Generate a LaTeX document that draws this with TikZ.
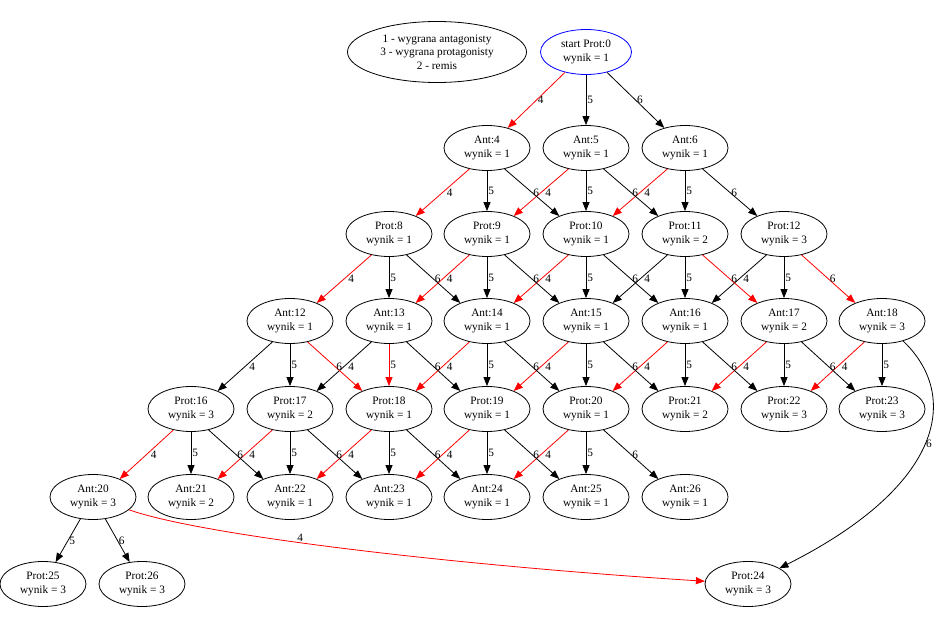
\documentclass[tikz,border=0pt]{standalone}
\usepackage{fontspec}
\setmainfont{Liberation Serif}
\usetikzlibrary{arrows.meta,shapes.geometric}
\begin{document}
\begin{tikzpicture}[x=1bp,y=-1bp,
  every node/.style={font=\fontsize{11.3bp}{13.5bp}\selectfont},
  state/.style={ellipse, draw, line width=0.8bp, minimum width=86bp,
    minimum height=45bp, inner sep=0pt, align=center},
  edge/.style={draw=black, line width=0.8bp, -{Triangle[length=9bp,width=7bp]}},
  win/.style={edge, draw=red},
  lbl/.style={midway, anchor=west, inner sep=1bp}]
\useasboundingbox (0,0) rectangle (942,643);

% legend and root
\node[state, minimum width=179bp, minimum height=61bp] (legend) at (437,52)
  {1 - wygrana antagonisty\\3 - wygrana protagonisty\\2 - remis};
\node[state, draw=blue, minimum width=91bp] (p0) at (586,52) {start Prot:0\\wynik = 1};

% game states: name / x / y / label / result
\foreach \n/\x/\y/\t/\w in {
  a4/487/148/Ant:4/1, a5/586/148/Ant:5/1, a6/685/148/Ant:6/1,
  p8/389/234/Prot:8/1, p9/487/234/Prot:9/1, p10/586/234/Prot:10/1,
  p11/685/234/Prot:11/2, p12/784/234/Prot:12/3,
  a12/290/321/Ant:12/1, a13/389/321/Ant:13/1, a14/487/321/Ant:14/1,
  a15/586/321/Ant:15/1, a16/685/321/Ant:16/1, a17/784/321/Ant:17/2,
  a18/882/321/Ant:18/3,
  p16/191/409/Prot:16/3, p17/290/409/Prot:17/2, p18/389/409/Prot:18/1,
  p19/487/409/Prot:19/1, p20/586/409/Prot:20/1, p21/685/409/Prot:21/2,
  p22/784/409/Prot:22/3, p23/882/409/Prot:23/3,
  a20/93/497/Ant:20/3, a21/191/497/Ant:21/2, a22/290/497/Ant:22/1,
  a23/389/497/Ant:23/1, a24/487/497/Ant:24/1, a25/586/497/Ant:25/1,
  a26/685/497/Ant:26/1,
  p25/43/584/Prot:25/3, p26/142/584/Prot:26/3, p24/748/584/Prot:24/3}
  \node[state] (\n) at (\x,\y) {\t\\wynik = \w};

% moves from the root
\draw[win]  (p0) -- node[lbl] {4} (a4);
\draw[edge] (p0) -- node[lbl] {5} (a5);
\draw[edge] (p0) -- node[lbl] {6} (a6);

% move 4: one column to the left
\foreach \s/\t/\c in {
  p11/a15/black, p12/a16/black, a12/p16/black, a13/p17/black,
  a4/p8/red, a5/p9/red, a6/p10/red, p8/a12/red, p9/a13/red, p10/a14/red,
  a14/p18/red, a15/p19/red, a16/p20/red, a17/p21/red, a18/p22/red,
  p16/a20/red, p17/a21/red, p18/a22/red, p19/a23/red, p20/a24/red}
  \draw[edge, draw=\c] (\s.-130) -- node[lbl, xshift=3bp] {4} (\t.34);

% move 5: straight down
\foreach \s/\t/\c in {
  a4/p9/black, a5/p10/black, a6/p11/black,
  p8/a13/black, p9/a14/black, p10/a15/black, p11/a16/black, p12/a17/black,
  a12/p17/black, a13/p18/red, a14/p19/black, a15/p20/black, a16/p21/black,
  a17/p22/black, a18/p23/black,
  p16/a21/black, p17/a22/black, p18/a23/black, p19/a24/black, p20/a25/black}
  \draw[edge, draw=\c] (\s) -- node[lbl] {5} (\t);

% move 6: one column to the right
\foreach \s/\t/\c in {
  a4/p10/black, a5/p11/black, a6/p12/black,
  p8/a14/black, p9/a15/black, p10/a16/black, p11/a17/red, p12/a18/red,
  a12/p18/red, a13/p19/black, a14/p20/black, a15/p21/black, a16/p22/black,
  a17/p23/black,
  p16/a22/black, p17/a23/black, p18/a24/black, p19/a25/black, p20/a26/black}
  \draw[edge, draw=\c] (\s.-50) -- node[lbl] {6} (\t.146);

% last level
\draw[edge] (a20) -- node[lbl] {5} (p25);
\draw[edge] (a20) -- node[lbl] {6} (p26);

% long moves to Prot:24
\draw[edge] (a18) .. controls (960,395) and (945,485) ..
  node[pos=0.5, anchor=west, inner sep=1bp] {6} (p24);
\draw[win] (a20) .. controls (200,535) and (450,565) ..
  node[pos=0.42, above, inner sep=1bp] {4} (p24);
\end{tikzpicture}
\end{document}
